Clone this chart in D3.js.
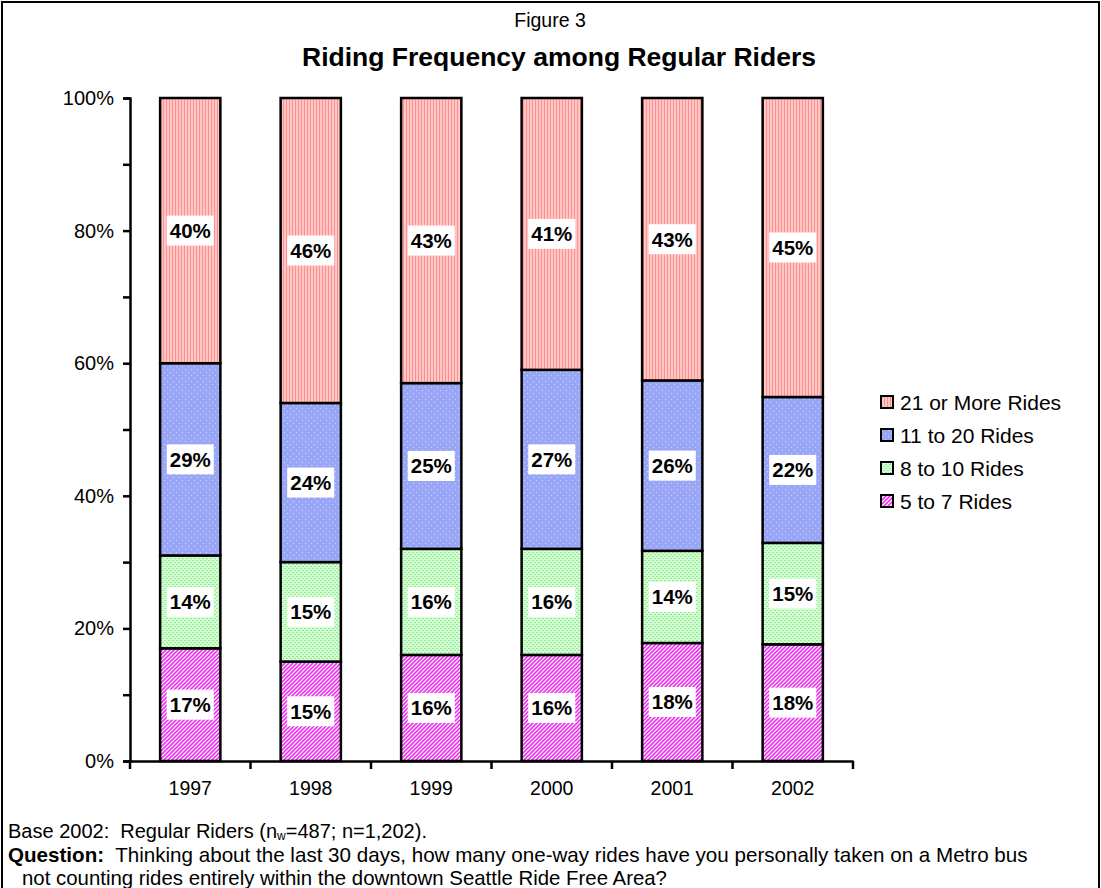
<!DOCTYPE html>
<html>
<head>
<meta charset="utf-8">
<script src="https://cdn.jsdelivr.net/npm/d3@7"></script>
<style>
  body { margin: 0; background: #fff; }
  svg text { font-family: "Liberation Sans", Arial, sans-serif; }
</style>
</head>
<body>
<div id="chart"></div>
<script>
// data, bottom to top in each bar
var years = ["1997", "1998", "1999", "2000", "2001", "2002"];
var seriesNames = ["5 to 7 Rides", "8 to 10 Rides", "11 to 20 Rides", "21 or More Rides"];
var rides5to7   = [17, 15, 16, 16, 17.8, 17.6];
var rides8to10  = [14, 15, 16, 16, 13.9, 15.3];
var rides11to20 = [29, 24, 25, 27, 25.7, 22.0];
var rides21plus = [40, 46, 43, 41, 42.6, 45.1];
var yTicks = [0, 10, 20, 30, 40, 50, 60, 70, 80, 90, 100];
var yLabels = [0, 20, 40, 60, 80, 100];

var W = 1101, H = 888;
var margin = {left: 130, top: 98, right: 248, bottom: 127};
var width = 853 - margin.left, height = 761 - margin.top;

var svg = d3.select("#chart").append("svg")
    .attr("width", W).attr("height", H);

// patterns (Excel style fills)
var defs = svg.append("defs");
function pat(id, w, h, bg) {
    var p = defs.append("pattern").attr("id", id)
        .attr("patternUnits", "userSpaceOnUse").attr("width", w).attr("height", h);
    p.append("rect").attr("width", w).attr("height", h).attr("fill", bg);
    return p;
}
// pink diagonal
var p0 = pat("p0", 4, 4, "#ffffff");
p0.append("path").attr("d", "M0,4 L4,0 M-1,1 L1,-1 M3,5 L5,3").attr("stroke", "#ee33ee").attr("stroke-width", 1.6);
// green small grid
var p1 = pat("p1", 4, 4, "#d2ffd2");
p1.append("rect").attr("x", 0).attr("y", 0).attr("width", 2).attr("height", 1).attr("fill", "#99e699");
p1.append("rect").attr("x", 2).attr("y", 2).attr("width", 2).attr("height", 1).attr("fill", "#99e699");
// blue dotted
var p2 = pat("p2", 6, 6, "#99a6f6");
p2.append("rect").attr("x", 1).attr("y", 1).attr("width", 1).attr("height", 1).attr("fill", "#cdd3ff");
p2.append("rect").attr("x", 4).attr("y", 4).attr("width", 1).attr("height", 1).attr("fill", "#cdd3ff");
// red vertical stripes
var p3 = pat("p3", 3, 3, "#ffc6c6");
p3.append("rect").attr("x", 0).attr("y", 0).attr("width", 1).attr("height", 3).attr("fill", "#ff9090");
var fills = ["url(#p0)", "url(#p1)", "url(#p2)", "url(#p3)"];

// outer frame
svg.append("rect").attr("x", 2).attr("y", 2).attr("width", W - 4).attr("height", H + 10)
    .attr("fill", "none").attr("stroke", "#000").attr("stroke-width", 2);

// titles
svg.append("text").attr("x", 550).attr("y", 27).attr("text-anchor", "middle")
    .style("font-size", "19.5px").text("Figure 3");
svg.append("text").attr("x", 559).attr("y", 66).attr("text-anchor", "middle")
    .style("font-size", "26.5px").style("font-weight", "bold").text("Riding Frequency among Regular Riders");

var g = svg.append("g").attr("transform", "translate(" + margin.left + "," + margin.top + ")");

var x = d3.scaleBand().domain(years).range([0, width]).paddingInner(0.5).paddingOuter(0.25);
var y = d3.scaleLinear().domain([0, 100]).range([height, 0]);

var table = years.map(function (yr, i) {
    return {year: yr, v: [rides5to7[i], rides8to10[i], rides11to20[i], rides21plus[i]]};
});
var keys = [0, 1, 2, 3];
var stack = d3.stack().keys(keys).value(function (d, k) { return d.v[k]; });
var layers = stack(table);

// bars
layers.forEach(function (layer, li) {
    g.append("g").selectAll("rect").data(layer).enter().append("rect")
        .attr("x", function (d) { return x(d.data.year); })
        .attr("y", function (d) { return y(d[1]); })
        .attr("width", x.bandwidth())
        .attr("height", function (d) { return y(d[0]) - y(d[1]); })
        .attr("fill", fills[li])
        .attr("stroke", "#000").attr("stroke-width", 2.5);
});

// labels with white boxes
layers.forEach(function (layer, li) {
    var lg = g.append("g").selectAll("g").data(layer).enter().append("g")
        .attr("transform", function (d) {
            return "translate(" + (x(d.data.year) + x.bandwidth() / 2) + "," + y((d[0] + d[1]) / 2) + ")";
        });
    var box = lg.append("rect").attr("fill", "#fff");
    var t = lg.append("text").attr("text-anchor", "middle").attr("dy", "0.36em")
        .style("font-size", "20.5px").style("font-weight", "bold")
        .text(function (d) { return Math.round(d[1] - d[0]) + "%"; });
    box.each(function (d, i) {
        var bb = t.nodes()[i].getBBox();
        d3.select(this).attr("x", bb.x - 3).attr("y", -15).attr("width", bb.width + 6).attr("height", 30);
    });
});

// y axis
var yAxis = g.append("g").call(d3.axisLeft(y).tickValues(yTicks).tickSize(7)
    .tickFormat(function (d) { return yLabels.indexOf(d) >= 0 ? d + "%" : ""; }));
yAxis.select(".domain").attr("stroke-width", 2.5);
yAxis.selectAll(".tick line").attr("stroke-width", 2.5);
yAxis.selectAll("text").style("font-size", "20px").attr("x", -16);

// x axis
var xAxis = g.append("g").attr("transform", "translate(0," + height + ")")
    .call(d3.axisBottom(x).tickSize(0).tickSizeOuter(0).tickPadding(20));
xAxis.select(".domain").attr("stroke-width", 2.5);
xAxis.selectAll("text").style("font-size", "19.5px");
var step = x.step();
xAxis.selectAll(".sep").data(d3.range(years.length + 1)).enter().append("line")
    .attr("x1", function (i) { return i * step; }).attr("x2", function (i) { return i * step; })
    .attr("y1", 0).attr("y2", 8).attr("stroke", "#000").attr("stroke-width", 2.5);

// legend
var legend = svg.append("g").attr("transform", "translate(881,402)");
var order = [3, 2, 1, 0];
order.forEach(function (k, i) {
    var row = legend.append("g").attr("transform", "translate(0," + (i * 33) + ")");
    row.append("rect").attr("x", 0).attr("y", -6).attr("width", 12).attr("height", 12)
        .attr("fill", fills[k]).attr("stroke", "#000").attr("stroke-width", 2);
    row.append("text").attr("x", 19).attr("dy", "0.36em").style("font-size", "21px").text(seriesNames[k]);
});

// notes
var n1 = svg.append("text").attr("x", 8).attr("y", 838).attr("xml:space", "preserve").style("font-size", "20px");
n1.append("tspan").text("Base 2002:  Regular Riders (n");
n1.append("tspan").attr("dy", 2).style("font-size", "12px").text("w");
n1.append("tspan").attr("dy", -2).text("=487; n=1,202).");
var n2 = svg.append("text").attr("x", 8).attr("y", 862).attr("xml:space", "preserve").style("font-size", "20.6px");
n2.append("tspan").style("font-weight", "bold").text("Question:");
n2.append("tspan").text("  Thinking about the last 30 days, how many one-way rides have you personally taken on a Metro bus");
svg.append("text").attr("x", 22).attr("y", 885).style("font-size", "20.4px")
    .text("not counting rides entirely within the downtown Seattle Ride Free Area?");
</script>
</body>
</html>
